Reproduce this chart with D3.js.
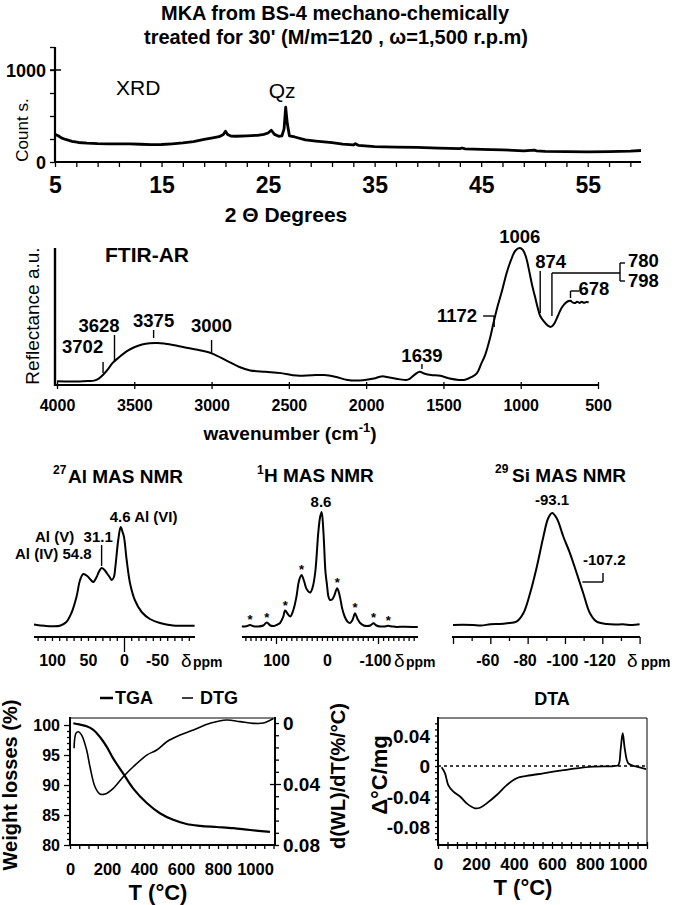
<!DOCTYPE html>
<html>
<head>
<meta charset="utf-8">
<script src="https://cdn.jsdelivr.net/npm/d3@7"></script>
<style>
  body { margin: 0; background: #fff; }
  svg { font-family: "Liberation Sans", Arial, sans-serif; }
</style>
</head>
<body>
<svg id="fig" width="685" height="905"></svg>
<script>
// ---------- data ----------
// XRD pattern
const xrdTheta  = [5.0,5.3,5.6,6.0,6.6,7.2,8.0,9.0,10.0,11.0,12.0,13.0,14.0,15.0,16.0,17.0,18.0,19.0,19.8,20.4,20.8,21.0,21.2,21.5,22.0,23.0,24.0,24.6,25.0,25.3,25.6,26.0,26.3,26.5,26.65,26.8,27.0,27.5,28.5,29.5,31.0,32.0,33.0,33.2,33.5,35.0,37.0,39.0,41.0,43.0,43.2,43.5,45.0,47.0,49.0,50.0,50.2,51.0,53.0,55.0,57.0,59.0,60.0];
const xrdCounts = [300,285,262,245,225,212,205,200,198,196,197,193,188,190,198,208,222,245,262,275,300,335,300,282,280,285,290,300,315,345,300,280,285,360,595,420,285,272,240,228,210,195,185,198,180,168,162,158,150,145,152,142,138,132,122,128,122,115,112,110,112,118,125];
const xrdTicks = [5,15,25,35,45,55];

// FTIR reflectance (arbitrary units, 0..100)
const irWave = [4000,3900,3800,3760,3730,3700,3670,3640,3600,3550,3500,3450,3400,3350,3300,3250,3200,3100,3000,2900,2820,2750,2650,2550,2450,2350,2270,2200,2120,2020,1950,1900,1850,1780,1730,1690,1655,1620,1580,1520,1460,1400,1360,1320,1283,1255,1231,1200,1176,1150,1120,1090,1063,1035,1006,985,965,945,925,907,890,874,850,825,805,785,760,735,710,690,678,665,650,635,620,605,590,575,560];
const irRefl = [2,1.8,2.2,2.5,4,7,11,15.5,19.5,24,27,29,30,30.2,29.6,28.7,27.5,25.3,22.5,17,12.5,10,9,8,6.2,6.5,6.6,5.3,3,2.8,4,5.6,4.8,3.4,3.2,6.5,9,7.5,6.6,6,4,3,3.1,5,8,15,21,33,45,57,69,82,91,98,100,98.5,93,83,72,64,56,50,46,43,42,44,50,56,59.5,61,61.2,60,59.5,60.5,59.6,60.4,59.7,60.3,60];
const irTicks = [4000,3500,3000,2500,2000,1500,1000,500];

// 27Al MAS NMR
const alPpm = [125,121,110,100,89,80,73,66,61,56.5,51,46,42.6,38,35,31.1,27,24,20,17,14,12,8,4.6,2,0,-3.7,-8.3,-15,-24.5,-36,-50,-68,-85,-98];
const alInt = [2.5,2,1.2,0.8,1.3,5,14,30,47,53,51,47,45,50,55,59,57,54,50,47,50,60,87,100,95,90,67,44,27,15,8,4,1.5,1.3,1.2];

// 1H MAS NMR
const hPpm = [167,158,151,144,135,125,118,111,104,97,92,86,82,77,72,66,60,55,50,45,40,33,28,23,17,13.5,10.5,7,3,0,-3,-6,-10,-14,-20,-25,-30,-35,-40,-45,-50,-55,-60,-65,-72,-78,-85,-91,-97,-104,-112,-120,-128,-137,-150,-178];
const hInt = [0.5,0.8,2,0.8,0.5,1.5,4.5,1.5,1,2.5,4,10,16.5,13,10.5,17,30,46,52,46,38,34.5,40,55,95,110,115,95,55,42,30,27,27.5,31,38.7,31,18,10,5.5,4,7,13.7,8,4,1.5,1,1.5,3.7,1.5,0.5,0.5,1.2,0.5,0,0.3,0];
const hSidebands = [151,118,82,50,-20,-55,-91,-120];

// 29Si MAS NMR
const siPpm = [-40,-45,-50.7,-55,-60,-65,-69,-74,-77.7,-81.3,-84.9,-88.4,-91,-93.1,-95.6,-99.2,-102.7,-106.3,-109.8,-113.4,-117,-122.4,-127,-131,-136,-140];
const siInt = [2,2.3,2,1.5,2.7,3,3.7,5.3,13.7,33.7,60,90,108.7,114,108.7,90,73.7,53.7,33.7,13.7,5.3,3,2.5,2.7,2,2.7];

// TGA / DTG
const tgaT  = [18,50,90,126,162,198,234,288,342,415,486,558,630,703,793,883,973,1081];
const tgaWt = [100.3,100.1,99.8,99.2,98,96.4,94.4,91.9,89.4,87,85.3,84.2,83.5,83.2,83,82.8,82.5,82.2];
const dtgT  = [22,32,45,63,90,108,135,162,189,234,288,342,415,469,523,595,667,757,847,919,991,1045,1099];
const dtgV  = [0.0166,0.0068,0.0057,0.0079,0.0177,0.0287,0.0418,0.0466,0.0466,0.0428,0.0352,0.0287,0.021,0.0177,0.0123,0.0079,0.0046,0.0002,-0.002,-0.0009,0.0002,0,-0.003];

// DTA
const dtaT = [19,37,54,81,116,151,195,221,256,309,362,414,467,554,642,730,817,923,949,961,972,984,1002,1046,1095];
const dtaV = [-0.0017,-0.0096,-0.025,-0.0337,-0.04,-0.049,-0.0555,-0.0547,-0.049,-0.038,-0.025,-0.016,-0.013,-0.0096,-0.0061,-0.003,-0.0009,0,0.0013,0.021,0.043,0.021,0.0035,-0.0009,-0.004];

// ---------- helpers ----------
const svg = d3.select("#fig");

function txt(x, y, s, size, o = {}) {
  const t = svg.append("text").attr("x", x).attr("y", y)
    .attr("font-size", size).attr("font-weight", o.weight || "bold")
    .attr("text-anchor", o.anchor || "start").attr("fill", "#000").text(s);
  if (o.len) t.attr("textLength", o.len).attr("lengthAdjust", "spacingAndGlyphs");
  if (o.rot) t.attr("transform", `rotate(${o.rot},${x},${y})`);
  return t;
}
function seg(x1, y1, x2, y2, w = 1.5, dash = null) {
  const l = svg.append("line").attr("x1", x1).attr("y1", y1).attr("x2", x2).attr("y2", y2)
    .attr("stroke", "#000").attr("stroke-width", w);
  if (dash) l.attr("stroke-dasharray", dash);
  return l;
}
function curve(xs, ys, sx, sy, w = 2, kind = d3.curveCatmullRom) {
  svg.append("path").datum(d3.zip(xs, ys))
    .attr("d", d3.line().x(d => sx(d[0])).y(d => sy(d[1])).curve(kind))
    .attr("fill", "none").attr("stroke", "#000").attr("stroke-width", w)
    .attr("stroke-linejoin", "round");
}
// style an axis group: no domain, black ticks, bold labels with a set baseline
function fixAxis(g, size, pos, side) {
  g.select(".domain").remove();
  g.selectAll(".tick line").attr("stroke", "#000").attr("stroke-width", 1.3);
  const t = g.selectAll(".tick text").attr("fill", "#000").attr("font-size", size)
    .attr("font-weight", "bold").attr("font-family", "Liberation Sans, Arial, sans-serif");
  if (side === "bottom") t.attr("dy", null).attr("y", pos);
  else t.attr("dy", "0.36em").attr("x", pos);
}

// ---------- title ----------
txt(335, 20, "MKA from BS-4  mechano-chemically", 20, { anchor: "middle", len: 348 });
txt(336, 44, "treated for 30' (M/m=120 , \u03c9=1,500 r.p.m)", 20, { anchor: "middle", len: 384 });

// ---------- XRD ----------
const xrdX = d3.scaleLinear().domain([5, 60]).range([55, 641]);
const xrdY = d3.scaleLinear().domain([0, 1250]).range([162, 47]);
curve(xrdTheta, xrdCounts, xrdX, xrdY, 2.8, d3.curveLinear);
seg(55, xrdY(1250), 55, xrdY(0), 2.2);
seg(55, xrdY(0), xrdX(60), xrdY(0), 2.2);
svg.append("g").attr("transform", "translate(0,162)")
  .call(d3.axisBottom(xrdX).tickValues(d3.range(5, 60, 2)).tickSize(5)
    .tickFormat(d => xrdTicks.includes(d) ? d : ""))
  .call(g => fixAxis(g, 23, 31, "bottom"));
svg.append("g").attr("transform", "translate(55,0)")
  .call(d3.axisLeft(xrdY).tickValues([0, 250, 500, 750, 1000, 1250]).tickSize(5)
    .tickFormat(d => (d === 0 || d === 1000) ? d : ""))
  .call(g => fixAxis(g, 18, -9, "left"));
seg(50, xrdY(1000), 61, xrdY(1000), 1.5);
txt(116, 95, "XRD", 21, { weight: "normal" });
txt(xrdX(26.65) - 17, 98, "Qz", 21, { weight: "normal" });
txt(28, 130, "Count s.", 17, { weight: "normal", anchor: "middle", rot: -90 });
txt(286, 222, "2 \u0398 Degrees", 21, { anchor: "middle" });

// ---------- FTIR ----------
const irX = d3.scaleLinear().domain([4000, 500]).range([57, 598]);
const irY = d3.scaleLinear().domain([0, 100]).range([384, 248]);
curve(irWave, irRefl, irX, irY, 2);
seg(55, 248, 55, 386, 2.4);
seg(55, 385, irX(500), 385, 2.2);
svg.append("g").attr("transform", "translate(0,385)")
  .call(d3.axisBottom(irX).tickValues(irTicks).tickSize(4).tickFormat(d => d))
  .call(g => fixAxis(g, 16, 26, "bottom"))
  .call(g => g.selectAll(".tick line").attr("y1", -3));
txt(105, 262, "FTIR-AR", 21);
txt(39, 316, "Reflectance a.u.", 19, { weight: "normal", anchor: "middle", rot: -90 });
const wl = txt(290, 440, "wavenumber (cm", 19, { anchor: "middle" });
wl.append("tspan").attr("dy", -8).attr("font-size", 13).text("-1");
wl.append("tspan").attr("dy", 8).text(")");

const pk = d => irX(d);
txt(pk(3702) - 41, 353, "3702", 18.5);
seg(pk(3702), 362, pk(3702), 373, 1.4);
txt(pk(3628) - 36, 332, "3628", 18.5);
seg(pk(3628), 335, pk(3628), 362, 1.4);
txt(pk(3375), 327, "3375", 18.5, { anchor: "middle" });
seg(pk(3375), 330, pk(3375), 338, 1.4);
txt(pk(3000), 332, "3000", 18.5, { anchor: "middle" });
seg(pk(3000), 340, pk(3000), 353, 1.4);
txt(pk(1639), 362, "1639", 18.5, { anchor: "middle" });
seg(pk(1639), 364, pk(1639), 369, 1.4);
txt(pk(1172) - 17, 322, "1172", 18.5, { anchor: "end" });
seg(pk(1172) - 11, 316, pk(1172), 316, 1.4);
seg(pk(1172), 316, pk(1172), 327, 1.4);
txt(pk(1006), 243, "1006", 18.5, { anchor: "middle" });
txt(pk(874) - 5, 268, "874", 18.5);
seg(pk(874), 271, pk(874), 313, 1.4);
seg(pk(798), 273, pk(798), 316, 1.4);
seg(pk(798), 273, 620, 273, 1.4);
seg(620, 263, 620, 281, 1.4);
seg(620, 263, 625, 263, 1.4);
seg(620, 281, 625, 281, 1.4);
txt(628, 267, "780", 18.5);
txt(628, 287, "798", 18.5);
txt(pk(678) + 8, 295, "678", 18.5);
seg(pk(678), 291, pk(678) + 9, 291, 1.4);
seg(pk(678), 291, pk(678), 298, 1.4);

// ---------- NMR panels ----------
function nmrPanel(ppm, inten, sx, sy, ticks, labels, major, majorLen, axL, axR) {
  curve(ppm, inten, sx, sy, 2);
  seg(axL, 637, axR, 637, 2);
  svg.append("g").attr("transform", "translate(0,637)")
    .call(d3.axisBottom(sx).tickValues(ticks).tickSize(4)
      .tickFormat(d => labels.includes(d) ? d : ""))
    .call(g => fixAxis(g, 16, 29, "bottom"))
    .call(g => g.selectAll(".tick line").filter(d => major.includes(d)).attr("y2", majorLen))
    .call(g => g.selectAll(".tick text").filter(d => d < 0).attr("dx", -3));
}
const nmrY = d3.scaleLinear().domain([0, 100]).range([627, 527]);

// 27Al
const alX = d3.scaleLinear().domain([124, 0]).range([34.7, 124]);
nmrPanel(alPpm, alInt, alX, nmrY, d3.range(120, -100, -10), [100, 50, 0, -50], [0], 15, 34, 195);
txt(alX(4.6) - 11, 522, "4.6 Al (VI)", 15);
txt(35, 542, "Al (V)", 15);
txt(alX(31.1) - 18, 542, "31.1", 15);
seg(alX(31.1), 545, alX(31.1), 566, 1.4);
txt(15, 559, "Al (IV) 54.8", 15);
txt(53, 474, "27", 12);
txt(68, 483, "Al MAS NMR", 19);

// 1H
const hX = d3.scaleLinear().domain([0, -100]).range([327, 378]);
nmrPanel(hPpm, hInt, hX, nmrY, d3.range(160, -180, -10), [100, 0, -100], [100, -100], 7, 242, 418);
txt(321, 507, "8.6", 15, { anchor: "middle" });
hSidebands.forEach(p => {
  const k = d3.minIndex(hPpm, q => Math.abs(q - p));
  txt(hX(p), nmrY(hInt[k]) - 1, "*", 13, { anchor: "middle" });
});
txt(257, 474, "1", 12);
txt(264, 482, "H MAS NMR", 19);

// 29Si
const siX = d3.scaleLinear().domain([-40, -140]).range([453, 639.6]);
nmrPanel(siPpm, siInt, siX, nmrY, d3.range(-40, -141, -10), [-60, -80, -100, -120], [-40, -60, -80, -100, -120, -140], 7, 452, 640);
txt(siX(-93.1), 505, "-93.1", 15, { anchor: "middle" });
txt(583, 565, "-107.2", 15);
seg(siX(-107.2) + 4, 582, 603, 582, 1.4);
seg(603, 582, 603, 573, 1.4);
txt(495, 473, "29", 12);
txt(512, 482, "Si MAS NMR", 19);

// delta ppm unit labels
[[181, 193], [394, 406], [627, 641]].forEach(([dx, px]) => {
  txt(dx, 667, "\u03b4", 19, { weight: "normal" });
  txt(px, 667, "ppm", 14);
});

// ---------- TGA / DTG ----------
const tX = d3.scaleLinear().domain([0, 1108]).range([70, 275]);
const wY = d3.scaleLinear().domain([80, 101.17]).range([845, 718]);
const dY = d3.scaleLinear().domain([-0.0033, 0.08]).range([718, 845]);
curve(tgaT, tgaWt, tX, wY, 2.2);
curve(dtgT, dtgV, tX, dY, 1.6);
seg(70, 718, 275, 718, 1);
seg(70, 717, 70, 846, 2);
seg(275, 717, 275, 846, 2);
seg(70, 845, 275, 845, 2);
svg.append("g").attr("transform", "translate(70,0)")
  .call(d3.axisLeft(wY).tickValues(d3.range(80, 101, 1)).tickSize(3)
    .tickFormat(d => d % 5 === 0 ? d : ""))
  .call(g => fixAxis(g, 16, -10, "left"))
  .call(g => g.selectAll(".tick line").filter(d => d % 5 === 0).attr("x2", -6));
svg.append("g").attr("transform", "translate(275,0)")
  .call(d3.axisRight(dY).tickValues(d3.range(0, 81, 8).map(v => v / 1000)).tickSize(4)
    .tickFormat(d => ({ 0: "0", 40: "0.04", 80: "0.08" })[Math.round(d * 1000)] || ""))
  .call(g => fixAxis(g, 19, 8, "right"))
  .call(g => g.selectAll(".tick line").filter(d => Math.round(d * 1000) === 40).attr("x1", -5).attr("x2", 6));
svg.append("g").attr("transform", "translate(0,845)")
  .call(d3.axisBottom(tX).tickValues(d3.range(0, 1101, 50)).tickSize(4)
    .tickFormat(d => d % 200 === 0 ? d : ""))
  .call(g => fixAxis(g, 16.5, 30, "bottom"));
seg(100, 698, 113, 698, 2.5);
txt(115, 704, "TGA", 18);
seg(182, 698, 193, 698, 1.5);
txt(200, 704, "DTG", 18);
txt(158, 900, "T (\u00b0C)", 22, { anchor: "middle" });
txt(17, 785, "Weight losses (%)", 20, { anchor: "middle", rot: -90 });
txt(345, 776, "d(WL)/dT(%/\u00b0C)", 20, { anchor: "middle", rot: -90 });

// ---------- DTA ----------
const aX = d3.scaleLinear().domain([0, 1100]).range([438, 647]);
const aY = d3.scaleLinear().domain([-0.1036, 0.063]).range([845, 718]);
seg(438, aY(0), 647, aY(0), 1.5, "3,3");
curve(dtaT, dtaV, aX, aY, 1.8);
seg(438, 718, 647, 718, 1);
seg(647, 718, 647, 845, 1);
seg(438, 717, 438, 846, 2);
seg(438, 845, 647, 845, 2);
const dtaLabels = { 40: "0.04", 0: "0", [-40]: "-0.04", [-80]: "-0.08" };
svg.append("g").attr("transform", "translate(438,0)")
  .call(d3.axisLeft(aY).tickValues(d3.range(-96, 61, 8).map(v => v / 1000)).tickSize(3)
    .tickFormat(d => dtaLabels[Math.round(d * 1000)] || ""))
  .call(g => fixAxis(g, 19, -8, "left"));
svg.append("g").attr("transform", "translate(0,845)")
  .call(d3.axisBottom(aX).tickValues(d3.range(0, 1101, 50)).tickSize(4)
    .tickFormat(d => d % 200 === 0 ? d : ""))
  .call(g => fixAxis(g, 17, 25, "bottom"))
  .call(g => g.selectAll(".tick line").attr("y1", -3));
txt(552, 705, "DTA", 18, { anchor: "middle" });
txt(523, 895, "T (\u00b0C)", 22, { anchor: "middle" });
txt(387, 775, "\u0394\u00b0C/mg", 22, { anchor: "middle", rot: -90 });
</script>
</body>
</html>
